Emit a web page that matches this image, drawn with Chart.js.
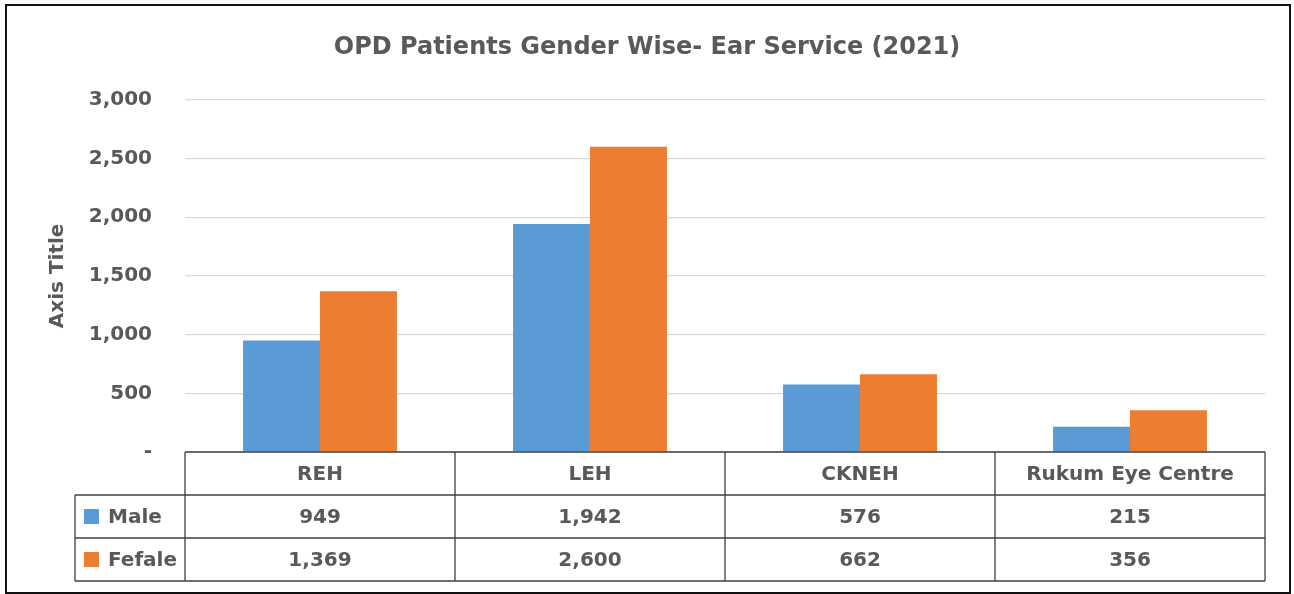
<!DOCTYPE html>
<html>
<head>
<meta charset="utf-8">
<script src="https://cdn.jsdelivr.net/npm/chart.js@4"></script>
<style>
  html, body { margin: 0; padding: 0; background: #fff; }
  #wrap { width: 1294px; height: 594px; }
</style>
</head>
<body>
<div id="wrap"><canvas id="chart" width="1294" height="594"></canvas></div>
<script>
// Chart data
const categories = ['REH', 'LEH', 'CKNEH', 'Rukum Eye Centre'];
const maleValues = [949, 1942, 576, 215];
const femaleValues = [1369, 2600, 662, 356];
const seriesNames = ['Male', 'Fefale'];
const yTicks = [0, 500, 1000, 1500, 2000, 2500, 3000];

const BLUE = '#5B9BD5';
const ORANGE = '#ED7D31';
const TEXT = '#595959';
const FONT = '"DejaVu Sans", sans-serif';

const fmt = (v) => v === 0 ? '-' : v.toLocaleString('en-US');

// Draws the outer frame and the Excel-style data table under the plot
const tablePlugin = {
    id: 'dataTable',
    afterDraw(chart) {
        const ctx = chart.ctx;
        const area = chart.chartArea;
        const xs = chart.scales.x;
        const n = categories.length;
        const colW = (area.right - area.left) / n;
        const top = area.bottom;
        const rowH = [43, 43, 43];
        const legendLeft = 75;

        ctx.save();

        // outer frame
        ctx.strokeStyle = '#111';
        ctx.lineWidth = 2;
        ctx.strokeRect(6, 5, 1284, 588);

        ctx.strokeStyle = '#404040';
        ctx.lineWidth = 1.3;
        const y0 = top, y1 = top + rowH[0], y2 = y1 + rowH[1], y3 = y2 + rowH[2];

        ctx.beginPath();
        ctx.moveTo(area.left, y0); ctx.lineTo(area.right, y0);
        ctx.moveTo(legendLeft, y1); ctx.lineTo(area.right, y1);
        ctx.moveTo(legendLeft, y2); ctx.lineTo(area.right, y2);
        ctx.moveTo(legendLeft, y3); ctx.lineTo(area.right, y3);
        ctx.moveTo(legendLeft, y1); ctx.lineTo(legendLeft, y3);
        for (let i = 0; i <= n; i++) {
            const x = area.left + i * colW;
            ctx.moveTo(x, y0); ctx.lineTo(x, y3);
        }
        ctx.stroke();

        ctx.fillStyle = TEXT;
        ctx.font = 'bold 20px ' + FONT;
        ctx.textAlign = 'center';
        ctx.textBaseline = 'middle';

        categories.forEach((c, i) => {
            const cx = xs.getPixelForValue(i);
            ctx.fillText(c, cx, (y0 + y1) / 2 + 1);
            ctx.fillText(fmt(maleValues[i]), cx, (y1 + y2) / 2 + 1);
            ctx.fillText(fmt(femaleValues[i]), cx, (y2 + y3) / 2 + 1);
        });

        // legend keys
        const rows = [[y1, y2, BLUE], [y2, y3, ORANGE]];
        rows.forEach(([a, b, color], i) => {
            const cy = (a + b) / 2;
            ctx.fillStyle = color;
            ctx.fillRect(84, cy - 7.5, 15, 15);
            ctx.fillStyle = TEXT;
            ctx.textAlign = 'left';
            ctx.fillText(seriesNames[i], 108, cy + 1);
        });

        ctx.restore();
    }
};

const ctx = document.getElementById('chart').getContext('2d');
new Chart(ctx, {
    type: 'bar',
    data: {
        labels: categories,
        datasets: [
            {
                label: seriesNames[0],
                data: maleValues,
                backgroundColor: BLUE,
                categoryPercentage: 0.57,
                barPercentage: 1.0
            },
            {
                label: seriesNames[1],
                data: femaleValues,
                backgroundColor: ORANGE,
                categoryPercentage: 0.57,
                barPercentage: 1.0
            }
        ]
    },
    options: {
        responsive: false,
        animation: false,
        layout: {
            padding: { left: 29, right: 29, top: 0, bottom: 142 }
        },
        plugins: {
            legend: { display: false },
            tooltip: { enabled: false },
            title: {
                display: true,
                text: 'OPD Patients Gender Wise- Ear Service (2021)',
                color: TEXT,
                font: { family: FONT, size: 24, weight: 'bold' },
                padding: { top: 33, bottom: 38 }
            }
        },
        scales: {
            x: {
                display: false
            },
            y: {
                min: 0,
                max: 3000,
                afterFit(scale) { scale.width = 156; },
                afterBuildTicks(scale) { scale.ticks = yTicks.map(v => ({ value: v })); },
                border: { display: false },
                grid: { color: '#d9d9d9', lineWidth: 1.3, drawTicks: false },
                ticks: {
                    padding: 33,
                    color: TEXT,
                    font: { family: FONT, size: 20, weight: 'bold' },
                    callback: (v) => fmt(v)
                },
                title: {
                    display: true,
                    text: 'Axis Title',
                    color: TEXT,
                    font: { family: FONT, size: 20, weight: 'bold' },
                    padding: { top: 17, bottom: 0 }
                }
            }
        }
    },
    plugins: [tablePlugin]
});
</script>
</body>
</html>
